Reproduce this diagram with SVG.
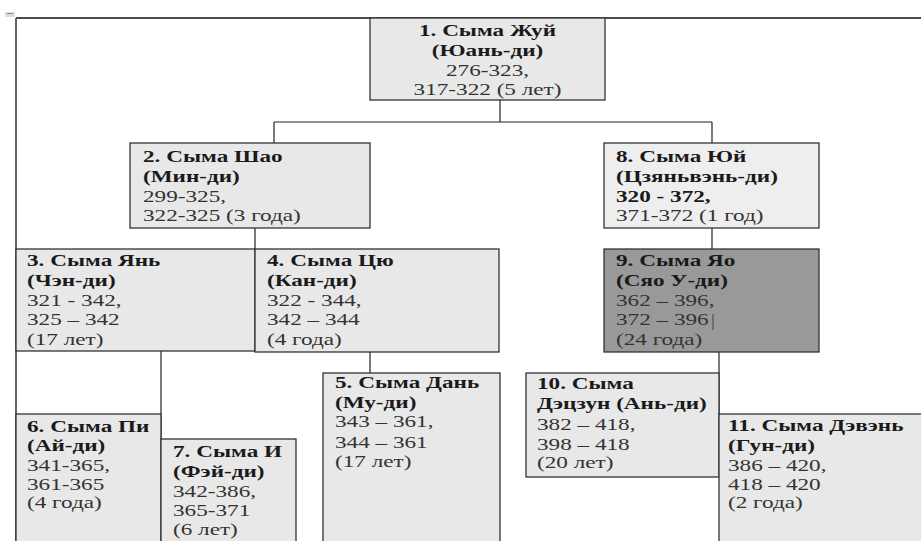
<svg xmlns="http://www.w3.org/2000/svg" width="921" height="541" viewBox="0 0 921 541">
<style>
.box{fill:#e8e8e8;stroke:#333;stroke-width:1.3}
.light{fill:#eeeeee}
.dark{fill:#999999}
.con{stroke:#222;stroke-width:1.2;fill:none}
.t{font-family:'Liberation Serif','DejaVu Serif',serif;font-size:16px;fill:#333}
.b{font-weight:bold;fill:#1a1a1a}
</style>
<rect width="921" height="541" fill="#ffffff"/>
<g id="frame">
<rect x="5" y="12" width="10" height="5" fill="#dddddd"/>
<line x1="7" y1="13.5" x2="13" y2="13.5" stroke="#888" stroke-width="1"/>
<line x1="16" y1="18" x2="921" y2="18" stroke="#111" stroke-width="1.5"/>
<line x1="16" y1="18" x2="16" y2="541" stroke="#555" stroke-width="1.8"/>
</g>
<g id="connectors">
<line class="con" x1="500" y1="100" x2="500" y2="122"/>
<line class="con" x1="274" y1="122" x2="712" y2="122"/>
<line class="con" x1="274" y1="122" x2="274" y2="143"/>
<line class="con" x1="712" y1="122" x2="712" y2="143"/>
<line class="con" x1="255" y1="228" x2="255" y2="249"/>
<line class="con" x1="712" y1="228" x2="712" y2="249"/>
<line class="con" x1="161" y1="351" x2="161" y2="439"/>
<line class="con" x1="370" y1="352" x2="370" y2="373"/>
<line class="con" x1="719" y1="352" x2="719" y2="414"/>
</g>
<g id="n1">
<rect class="box" x="370" y="18" width="235" height="82"/>
<text class="t" font-family="Liberation Serif" transform="translate(487.5,0) scale(1.45,1)" text-anchor="middle"><tspan class="b" x="0" y="36">1. Сыма Жуй</tspan><tspan class="b" x="0" y="56">(Юань-ди)</tspan><tspan x="0" y="76">276-323,</tspan><tspan x="0" y="95">317-322 (5 лет)</tspan></text>
</g>
<g id="n2">
<rect class="box" x="130" y="143" width="240" height="85"/>
<text class="t" font-family="Liberation Serif" transform="translate(143,0) scale(1.45,1)"><tspan class="b" x="0" y="162">2. Сыма Шао</tspan><tspan class="b" x="0" y="182">(Мин-ди)</tspan><tspan x="0" y="202">299-325,</tspan><tspan x="0" y="221">322-325 (3 года)</tspan></text>
</g>
<g id="n8">
<rect class="box light" x="604" y="143" width="215" height="85"/>
<text class="t" font-family="Liberation Serif" transform="translate(616,0) scale(1.45,1)"><tspan class="b" x="0" y="162">8. Сыма Юй</tspan><tspan class="b" x="0" y="182">(Цзяньвэнь-ди)</tspan><tspan class="b" x="0" y="202">320 - 372,</tspan><tspan x="0" y="221">371-372 (1 год)</tspan></text>
</g>
<g id="n3">
<rect class="box" x="16" y="249" width="239" height="102"/>
<text class="t" font-family="Liberation Serif" transform="translate(27,0) scale(1.45,1)"><tspan class="b" x="0" y="266">3. Сыма Янь</tspan><tspan class="b" x="0" y="286">(Чэн-ди)</tspan><tspan x="0" y="306">321 - 342,</tspan><tspan x="0" y="325">325 – 342</tspan><tspan x="0" y="345">(17 лет)</tspan></text>
</g>
<g id="n4">
<rect class="box" x="255" y="249" width="244" height="103"/>
<text class="t" font-family="Liberation Serif" transform="translate(267,0) scale(1.45,1)"><tspan class="b" x="0" y="266">4. Сыма Цю</tspan><tspan class="b" x="0" y="286">(Кан-ди)</tspan><tspan x="0" y="306">322 - 344,</tspan><tspan x="0" y="325">342 – 344</tspan><tspan x="0" y="345">(4 года)</tspan></text>
</g>
<g id="n9">
<rect class="box dark" x="604" y="249" width="215" height="103"/>
<text class="t" font-family="Liberation Serif" transform="translate(616,0) scale(1.45,1)"><tspan class="b" x="0" y="266">9. Сыма Яо</tspan><tspan class="b" x="0" y="286">(Сяо У-ди)</tspan><tspan x="0" y="306">362 – 396,</tspan><tspan x="0" y="325">372 – 396</tspan><tspan x="0" y="345">(24 года)</tspan></text>
<line x1="713" y1="314" x2="713" y2="330" stroke="#444" stroke-width="1"/>
</g>
<g id="n5">
<rect class="box" x="323" y="373" width="177" height="180"/>
<text class="t" font-family="Liberation Serif" transform="translate(335,0) scale(1.45,1)"><tspan class="b" x="0" y="388">5. Сыма Дань</tspan><tspan class="b" x="0" y="408">(Му-ди)</tspan><tspan x="0" y="427">343 – 361,</tspan><tspan x="0" y="448">344 – 361</tspan><tspan x="0" y="467">(17 лет)</tspan></text>
</g>
<g id="n10">
<rect class="box" x="526" y="373" width="193" height="104"/>
<text class="t" font-family="Liberation Serif" transform="translate(537,0) scale(1.45,1)"><tspan class="b" x="0" y="389">10. Сыма</tspan><tspan class="b" x="0" y="409">Дэцзун (Ань-ди)</tspan><tspan x="0" y="430">382 – 418,</tspan><tspan x="0" y="450">398 – 418</tspan><tspan x="0" y="468">(20 лет)</tspan></text>
</g>
<g id="n6">
<rect class="box" x="16" y="414" width="145" height="140"/>
<text class="t" font-family="Liberation Serif" transform="translate(27,0) scale(1.45,1)"><tspan class="b" x="0" y="432">6. Сыма Пи</tspan><tspan class="b" x="0" y="451">(Ай-ди)</tspan><tspan x="0" y="471">341-365,</tspan><tspan x="0" y="490">361-365</tspan><tspan x="0" y="508">(4 года)</tspan></text>
</g>
<g id="n7">
<rect class="box" x="161" y="439" width="135" height="120"/>
<text class="t" font-family="Liberation Serif" transform="translate(173,0) scale(1.45,1)"><tspan class="b" x="0" y="457">7. Сыма И</tspan><tspan class="b" x="0" y="477">(Фэй-ди)</tspan><tspan x="0" y="497">342-386,</tspan><tspan x="0" y="516">365-371</tspan><tspan x="0" y="535">(6 лет)</tspan></text>
</g>
<g id="n11">
<rect class="box" x="719" y="414" width="220" height="140"/>
<text class="t" font-family="Liberation Serif" transform="translate(728,0) scale(1.45,1)"><tspan class="b" x="0" y="431">11. Сыма Дэвэнь</tspan><tspan class="b" x="0" y="451">(Гун-ди)</tspan><tspan x="0" y="471">386 – 420,</tspan><tspan x="0" y="490">418 – 420</tspan><tspan x="0" y="508">(2 года)</tspan></text>
</g>
</svg>
